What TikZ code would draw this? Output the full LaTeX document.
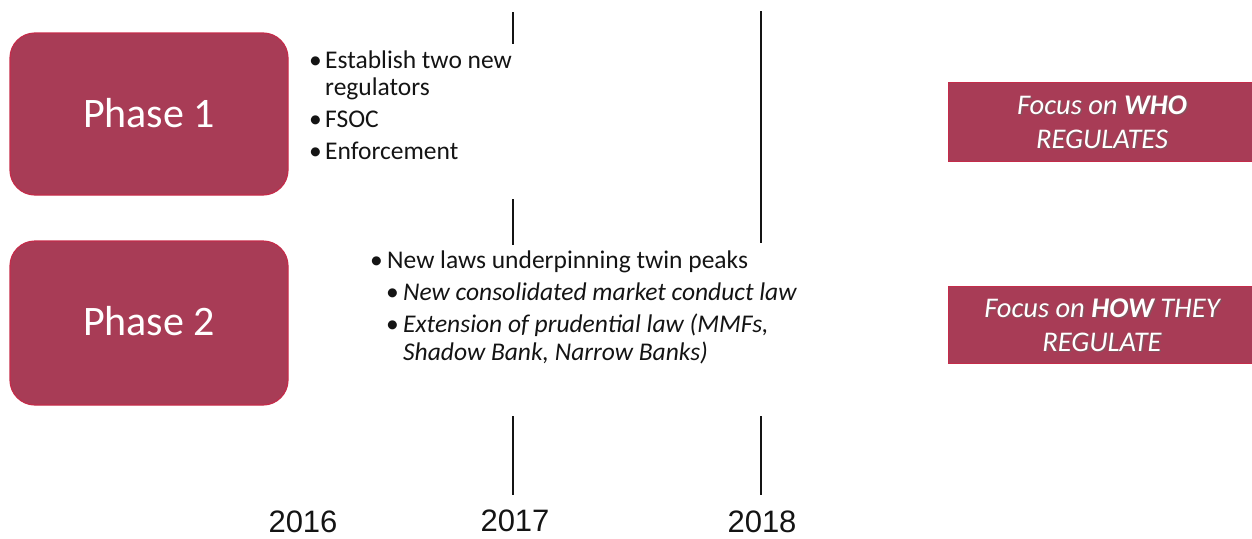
\documentclass[tikz,border=0pt]{standalone}
\usepackage{fontspec}
\setmainfont{Carlito}
\newfontfamily\yearfont{Liberation Sans}
\definecolor{phasefill}{RGB}{168,60,86}
\definecolor{phaseedge}{RGB}{196,44,74}
\definecolor{inktext}{RGB}{20,20,20}
\begin{document}
\begin{tikzpicture}[x=1pt,y=-1pt,
  phasebox/.style={draw=phaseedge,line width=1.2pt,fill=phasefill,rounded corners=25pt},
  focusbox/.style={draw=phaseedge,line width=1pt,fill=phasefill},
  phaselabel/.style={text=white,font=\fontsize{42}{48}\selectfont,inner sep=0pt},
  focuslabel/.style={text=white,font=\fontsize{28.5}{34}\selectfont\itshape,align=center,inner sep=0pt},
  focusshade/.style={text=black!60,font=\fontsize{28.5}{34}\selectfont\itshape,align=center,inner sep=0pt,opacity=0.55},
  bullettext/.style={text=inktext,font=\fontsize{25.5}{27}\selectfont,anchor=base west,inner sep=0pt},
  subtext/.style={bullettext,font=\fontsize{25.5}{27}\selectfont\itshape},
  yearlabel/.style={text=inktext,font=\yearfont\fontsize{31}{36}\selectfont,anchor=base,inner sep=0pt},
  tick/.style={draw=inktext,line width=1.6pt}]
\useasboundingbox (0,0) rectangle (1252,538);

% phase boxes
\draw[phasebox] (10,33) rectangle (288,195);
\node[phaselabel,anchor=base] (p1) at (149,127) {Phase 1};
\draw[phasebox] (10,241) rectangle (288,405);
\node[phaselabel,anchor=base] (p2) at (149,335) {Phase 2};

% focus banners
\draw[focusbox] (948,82) rectangle (1256,161);
\node[focusshade] at (1103.5,123.5) {Focus on \textbf{WHO}\\REGULATES};
\node[focuslabel] (f1) at (1102,122) {Focus on \textbf{WHO}\\REGULATES};
\draw[focusbox] (948,286) rectangle (1256,363);
\node[focusshade] at (1103.5,326.5) {Focus on \textbf{HOW} THEY\\REGULATE};
\node[focuslabel] (f2) at (1102,325) {Focus on \textbf{HOW} THEY\\REGULATE};

% phase 1 bullets
\node[bullettext] (b1) at (309,68) {\textbullet};
\node[bullettext] (t1) at (325,68) {Establish two new};
\node[bullettext] (t1b) at (325,95) {regulators};
\node[bullettext] (b2) at (309,127) {\textbullet};
\node[bullettext] (t2) at (325,127) {FSOC};
\node[bullettext] (b3) at (309,159) {\textbullet};
\node[bullettext] (t3) at (325,159) {Enforcement};

% phase 2 bullets
\node[bullettext] (c1) at (370,268) {\textbullet};
\node[bullettext] (s1) at (387,268) {New laws underpinning twin peaks};
\node[bullettext] (c2) at (386,300) {\textbullet};
\node[subtext] (s2) at (403,300) {New consolidated market conduct law};
\node[bullettext] (c3) at (386,332) {\textbullet};
\node[subtext] (s3) at (403,332) {Extension of prudential law (MMFs,};
\node[subtext] (s3b) at (403,360) {Shadow Bank, Narrow Banks)};

% timeline ticks
\coordinate (a1) at (513,12);  \coordinate (a2) at (513,44);
\coordinate (a3) at (513,199); \coordinate (a4) at (513,245);
\coordinate (a5) at (513,416); \coordinate (a6) at (513,495);
\coordinate (d1) at (761,11);  \coordinate (d2) at (761,243);
\coordinate (d3) at (761,416); \coordinate (d4) at (761,495);
\draw[tick] (a1) -- (a2);
\draw[tick] (a3) -- (a4);
\draw[tick] (a5) -- (a6);
\draw[tick] (d1) -- (d2);
\draw[tick] (d3) -- (d4);

% years
\node[yearlabel] (y16) at (303,532) {2016};
\node[yearlabel] (y17) at (515,531) {2017};
\node[yearlabel] (y18) at (762,532) {2018};
\end{tikzpicture}
\end{document}
